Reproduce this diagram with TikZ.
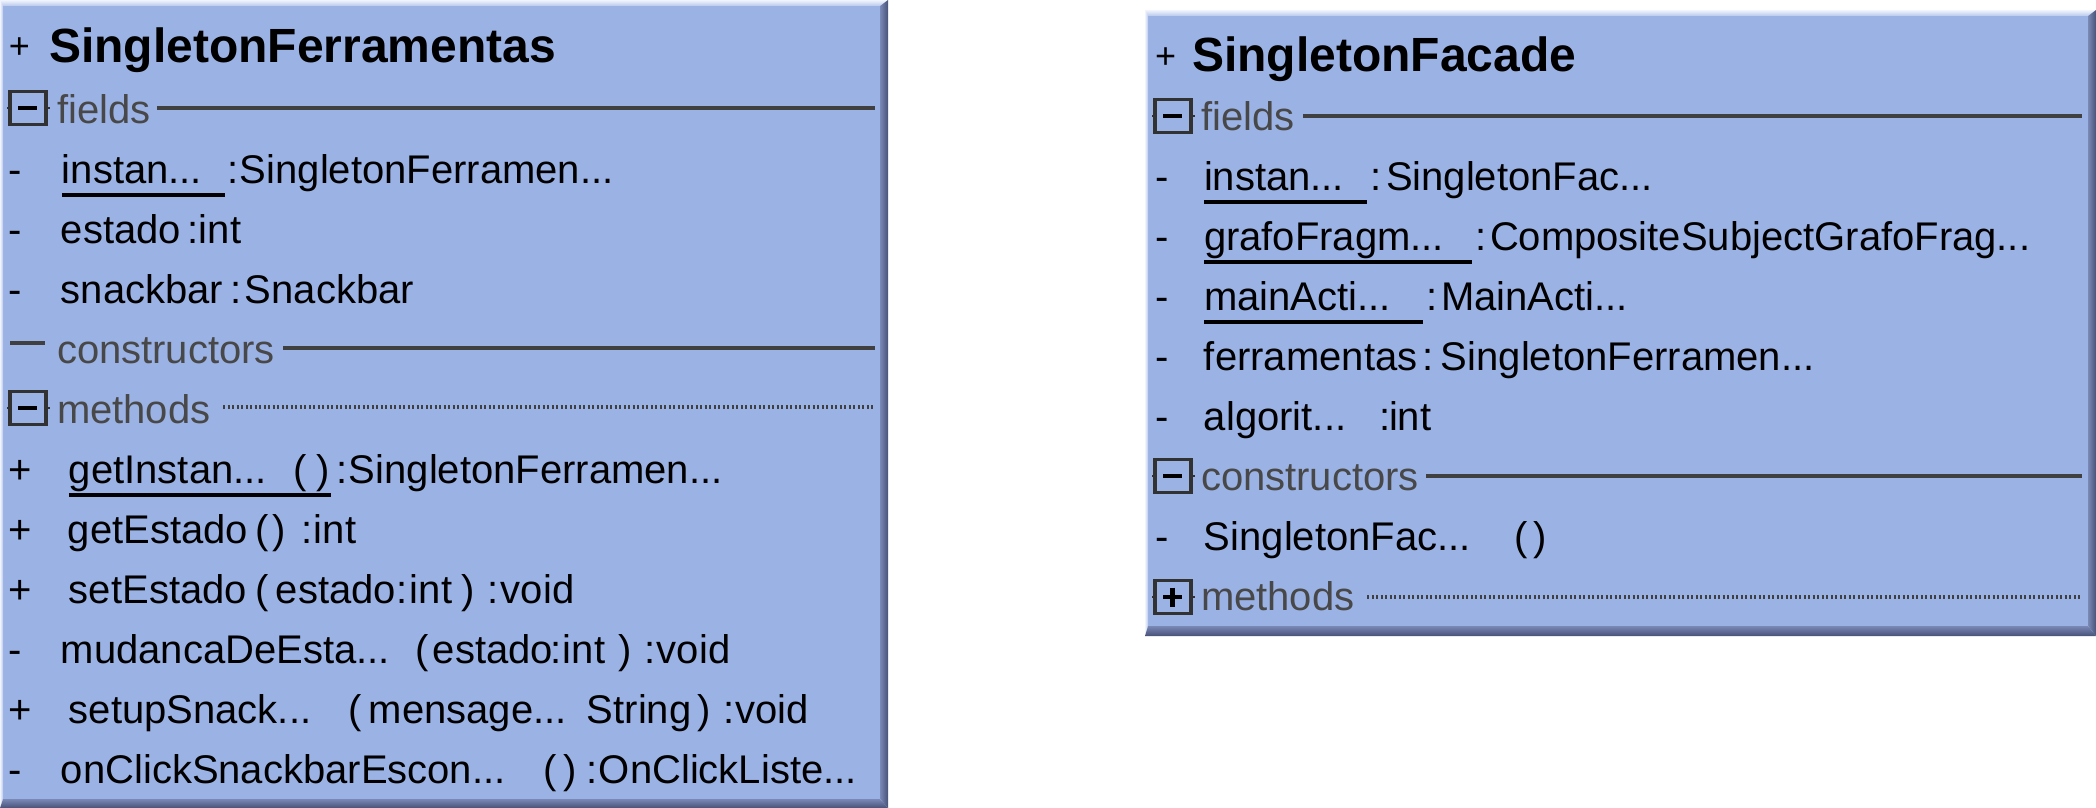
\documentclass[tikz,border=0pt]{standalone}
\usepackage{fontspec}
\setmainfont{Liberation Sans}
\definecolor{boxfill}{RGB}{155,178,228}
\definecolor{edgelight}{RGB}{240,244,253}
\definecolor{edgedarkA}{RGB}{122,136,182}
\definecolor{edgedarkB}{RGB}{72,82,120}
\definecolor{sectext}{RGB}{72,72,72}
\definecolor{seclinecol}{RGB}{64,64,64}
\definecolor{iconcol}{RGB}{50,50,50}
\newcommand{\C}[2]{\makebox[#1pt][l]{#2}}
\newcommand{\UL}[1]{\rlap{\rule[-13.5pt]{#1pt}{3.5pt}}}
\newcommand{\bevelbox}[8]{%
  \fill[boxfill] (#5,#6) rectangle (#7,#8);
  \shade[top color=edgelight, bottom color=boxfill!70!white] (#1,#2) -- (#3,#2) -- (#7,#6) -- (#5,#6) -- cycle;
  \shade[left color=edgelight, right color=boxfill!70!white] (#1,#2) -- (#5,#6) -- (#5,#8) -- (#1,#4) -- cycle;
  \shade[left color=edgedarkA, right color=edgedarkB] (#3,#2) -- (#3,#4) -- (#7,#8) -- (#7,#6) -- cycle;
  \shade[top color=edgedarkA, bottom color=edgedarkB] (#1,#4) -- (#5,#8) -- (#7,#8) -- (#3,#4) -- cycle;
}
\newcommand{\minusicon}[2]{%
  \draw[iconcol, line width=2pt] (#1-3,#2) -- (#1+40,#2);
  \draw[iconbox] (#1,#2-16.5) rectangle (#1+36,#2+16.5);
  \draw[black, line width=4.5pt] (#1+8,#2) -- (#1+27,#2);
}
\newcommand{\plusicon}[2]{%
  \minusicon{#1}{#2}
  \draw[black, line width=4.5pt] (#1+17.5,#2-9.5) -- (#1+17.5,#2+9.5);
}
\tikzset{
  rowtext/.style={anchor=base west, inner sep=0pt, outer sep=0pt, font=\fontsize{40}{48}\selectfont, text=black},
  titletext/.style={anchor=base west, inner sep=0pt, outer sep=0pt, font=\fontsize{48}{56}\selectfont\bfseries, text=black},
  titleplus/.style={anchor=base west, inner sep=0pt, outer sep=0pt, font=\fontsize{36}{44}\selectfont, text=black},
  sectitle/.style={anchor=base west, inner sep=0pt, outer sep=0pt, font=\fontsize{40}{48}\selectfont, text=sectext},
  secline/.style={draw=seclinecol, line width=4pt},
  secdots/.style={draw=seclinecol, line width=3.5pt, dash pattern=on 2pt off 2.5pt},
  iconbox/.style={draw=iconcol, line width=3.5pt, fill=boxfill},
}
\begin{document}
\begin{tikzpicture}[x=1pt,y=-1pt]
\useasboundingbox (0,0) rectangle (2096,808);
\fill[white] (0,0) rectangle (2096,808);

% ---------- Left class box ----------
\bevelbox{0}{0}{888}{808}{3}{6}{880}{799}
\node[titleplus] (ltplus) at (9,59) {+};
\node[titletext] (ltitle) at (49,63) {SingletonFerramentas};

\minusicon{10}{108}
\node[sectitle] (lfields) at (57,123) {fields};
\draw[secline] (157,108) -- (875,108);
\node[rowtext] (lf1) at (9,183) {\C{53}{-}\C{166}{\UL{163}instan...}\C{12}{:}SingletonFerramen...};
\node[rowtext] (lf2) at (9,243) {\C{52}{-}\C{127}{estado}\C{11}{:}int};
\node[rowtext] (lf3) at (9,303) {\C{52}{-}\C{170}{snackbar}\C{14}{:}Snackbar};

\draw[secline] (10,343) -- (45,343);
\node[sectitle] (lcons) at (57,363) {constructors};
\draw[secline] (283,348) -- (875,348);

\minusicon{10}{408}
\node[sectitle] (lmeth) at (57,423) {methods};
\draw[secdots] (223,407) -- (875,407);
\node[rowtext] (lm1) at (9,483) {\C{60}{+}\C{225}{\UL{262}getInstan...}\C{23}{(}\C{20}{)}\C{12}{:}SingletonFerramen...};
\node[rowtext] (lm2) at (9,543) {\C{59}{+}\C{188}{getEstado}\C{17}{(}\C{29}{)}\C{12}{:}int};
\node[rowtext] (lm3) at (9,603) {\C{60}{+}\C{187}{setEstado}\C{20}{(}\C{121}{estado}\C{13}{:}\C{52}{int}\C{26}{)}\C{13}{:}void};
\node[rowtext] (lm4) at (9,663) {\C{52}{-}\C{355}{mudancaDeEsta...}\C{17}{(}\C{118}{estado}\C{12}{:}\C{56}{int}\C{26}{)}\C{12}{:}void};
\node[rowtext] (lm5) at (9,723) {\C{60}{+}\C{280}{setupSnack...}\C{20}{(}\C{218}{mensage...}\C{111}{String}\C{26}{)}\C{11}{:}void};
\node[rowtext] (lm6) at (9,783) {\C{52}{-}\C{483}{onClickSnackbarEscon...}\C{20}{(}\C{23}{)}\C{12}{:}OnClickListe...};

% ---------- Right class box ----------
\bevelbox{1145}{10}{2096}{636}{1148}{16}{2088}{626}
\node[titleplus] (rtplus) at (1155,68) {+};
\node[titletext] (rtitle) at (1192,72) {SingletonFacade};

\minusicon{1155}{116}
\node[sectitle] (rfields) at (1201,130) {fields};
\draw[secline] (1303,116) -- (2082,116);
\node[rowtext] (rf1) at (1155,190) {\C{49}{-}\C{166}{\UL{163}instan...}\C{16}{:}SingletonFac...};
\node[rowtext] (rf2) at (1155,250) {\C{49}{-}\C{271}{\UL{268}grafoFragm...}\C{15}{:}CompositeSubjectGrafoFrag...};
\node[rowtext] (rf3) at (1155,310) {\C{49}{-}\C{222}{\UL{219}mainActi...}\C{15}{:}MainActi...};
\node[rowtext] (rf4) at (1155,370) {\C{49}{-}\C{219}{ferramentas}\C{18}{:}SingletonFerramen...};
\node[rowtext] (rf5) at (1155,430) {\C{49}{-}\C{176}{algorit...}\C{9}{:}int};

\minusicon{1155}{476}
\node[sectitle] (rcons) at (1201,490) {constructors};
\draw[secline] (1426,476) -- (2082,476);
\node[rowtext] (rc1) at (1155,550) {\C{49}{-}\C{311}{SingletonFac...}\C{19}{(})};

\plusicon{1155}{597}
\node[sectitle] (rmeth) at (1201,610) {methods};
\draw[secdots] (1367,597) -- (2082,597);
\end{tikzpicture}
\end{document}
